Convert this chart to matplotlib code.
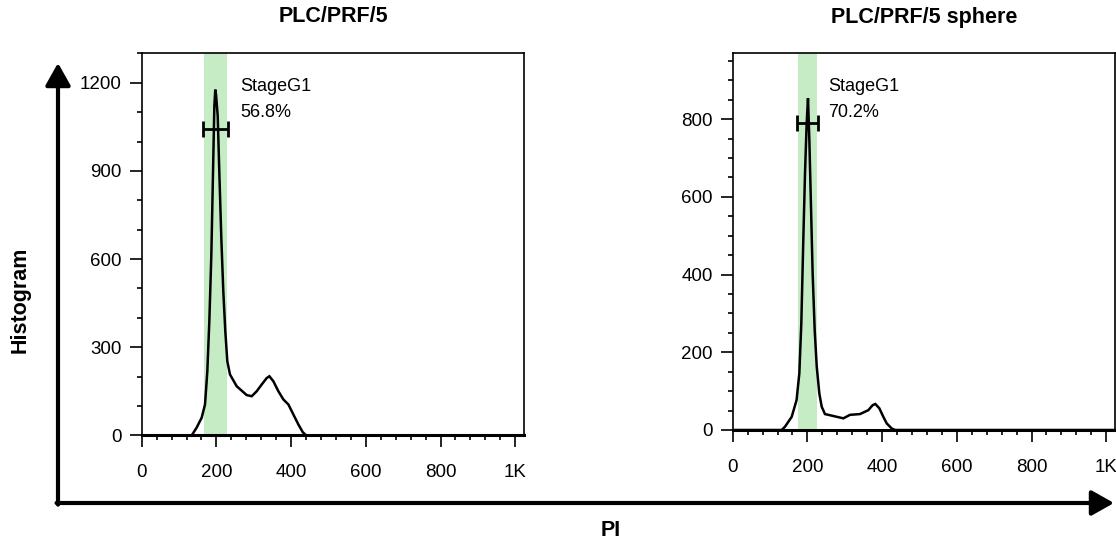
import numpy as np
import matplotlib
matplotlib.use("Agg")
import matplotlib.pyplot as plt
from matplotlib.patches import FancyArrowPatch
from matplotlib.ticker import MultipleLocator, FixedLocator, FixedFormatter

plt.rcParams['font.family'] = ['Liberation Sans', 'DejaVu Sans']

# ---------------- data ----------------
titles = ["PLC/PRF/5", "PLC/PRF/5 sphere"]
gate_names = ["StageG1", "StageG1"]
gate_pcts = ["56.8%", "70.2%"]

# left panel histogram (PI value, count)
pi_left = [0, 134, 147, 160.6, 169.5, 175.7, 181, 186.4, 190.9, 194.5, 197, 199,
           203.5, 207.8, 213.2, 218.5, 223.9, 229.2, 236.4, 254.3, 281, 294.5,
           307.9, 321.3, 334.7, 341.8, 352.5, 365.9, 379.3, 392.7, 406, 419.4,
           431, 440, 1024]
cnt_left = [0, 0, 26, 60, 105, 218, 387, 613, 895, 1121, 1177, 1160,
            1087, 895, 669, 489, 353, 252, 207, 167, 137, 133,
            150, 173, 195, 201, 184, 150, 122, 105, 71, 37,
            11, 0, 0]

# right panel histogram
pi_right = [0, 131, 140, 158, 171, 178.4, 183.7, 189, 193.6, 198, 201.6,
            205.2, 209.6, 214, 219.5, 225, 231.9, 238.3, 247, 269.4, 296.2,
            314, 340.8, 363, 374.8, 381.8, 392.5, 403.2, 412.3, 425.6, 435, 1024]
cnt_right = [0, 0, 8.5, 34, 77, 146, 275, 489, 661, 789, 854,
             746, 575, 403, 257, 163, 94, 60, 41, 36, 30,
             39, 41, 51, 64, 67, 56, 34, 17, 4, 0, 0]

# gate ranges (PI) and marker level (count)
gate_band = [(168, 228), (174, 226)]
gate_bar = [(165, 232), (171, 229)]
gate_level = [1044, 789]

x_ticks = [0, 200, 400, 600, 800, 1000]
x_ticklabels = ["0", "200", "400", "600", "800", "1K"]
y_ticks = [[0, 300, 600, 900, 1200], [0, 200, 400, 600, 800]]
y_minor = [100, 50]
y_top = [1300, 971]

W, H = 1116, 544
fig = plt.figure(figsize=(W / 100, H / 100), dpi=100)

# axes rectangles in pixels: (left, top, right, bottom)
rects = [(141.7, 53.5, 524.2, 435.3), (732.7, 52.7, 1115.2, 430.0)]
curves = [(pi_left, cnt_left), (pi_right, cnt_right)]
label_pos = [((263, 1188), (263, 1099)), ((256, 885), (256, 816))]

green = '#c6ecc6'
for i in range(2):
    l, t, r, b = rects[i]
    ax = fig.add_axes([l / W, 1 - b / H, (r - l) / W, (b - t) / H])
    x, y = curves[i]
    ax.axvspan(gate_band[i][0], gate_band[i][1], ymin=0, ymax=1,
               color=green, lw=0, zorder=0)
    ax.plot(x, y, color='black', lw=1.8, zorder=3, solid_joinstyle='miter')
    g0, g1 = gate_bar[i]
    ax.errorbar([(g0 + g1) / 2], [gate_level[i]], xerr=[(g1 - g0) / 2],
                fmt='none', ecolor='black', elinewidth=2, capsize=5.5,
                capthick=2, zorder=4)
    (tx1, ty1), (tx2, ty2) = label_pos[i]
    ax.text(tx1, ty1, gate_names[i], fontsize=13, va='center', ha='left')
    ax.text(tx2, ty2, gate_pcts[i], fontsize=13, va='center', ha='left')

    ax.set_xlim(0, 1024)
    ax.set_ylim(0, y_top[i])
    ax.xaxis.set_major_locator(FixedLocator(x_ticks))
    ax.xaxis.set_major_formatter(FixedFormatter(x_ticklabels))
    ax.xaxis.set_minor_locator(MultipleLocator(40))
    ax.set_yticks(y_ticks[i])
    ax.yaxis.set_minor_locator(MultipleLocator(y_minor[i]))
    ax.tick_params(which='major', direction='out', length=8.5, width=1.2,
                   labelsize=13.5)
    ax.tick_params(axis='x', which='major', pad=12.5)
    ax.tick_params(axis='y', which='major', pad=6)
    ax.tick_params(which='minor', direction='out', length=3.6, width=1.2)
    for s in ax.spines.values():
        s.set_linewidth(1.2)
    ax.spines['bottom'].set_linewidth(2.2)
    fig.text(((l + r) / 2) / W, 1 - 17 / H, titles[i], fontsize=15.5,
             fontweight='bold', ha='center', va='center')

# big axis arrows
x0, y0 = 58 / W, 1 - 503 / H
a1 = FancyArrowPatch((x0, y0 - 0.003), (x0, 1 - 63 / H), transform=fig.transFigure,
                     arrowstyle='-|>,head_length=0.8,head_width=0.45',
                     mutation_scale=17, lw=3, color='black',
                     shrinkA=0, shrinkB=0)
a2 = FancyArrowPatch((x0 - 0.0013, y0), (1114 / W, y0), transform=fig.transFigure,
                     arrowstyle='-|>,head_length=0.8,head_width=0.45',
                     mutation_scale=17, lw=3, color='black',
                     shrinkA=0, shrinkB=0)
fig.add_artist(a1)
fig.add_artist(a2)

fig.text(20 / W, 1 - 300 / H, "Histogram", rotation=90, fontsize=15.5,
         fontweight='bold', ha='center', va='center')
fig.text(611 / W, 1 - 530 / H, "PI", fontsize=15.5, fontweight='bold',
         ha='center', va='center')

fig.savefig("out.png", dpi=100)
